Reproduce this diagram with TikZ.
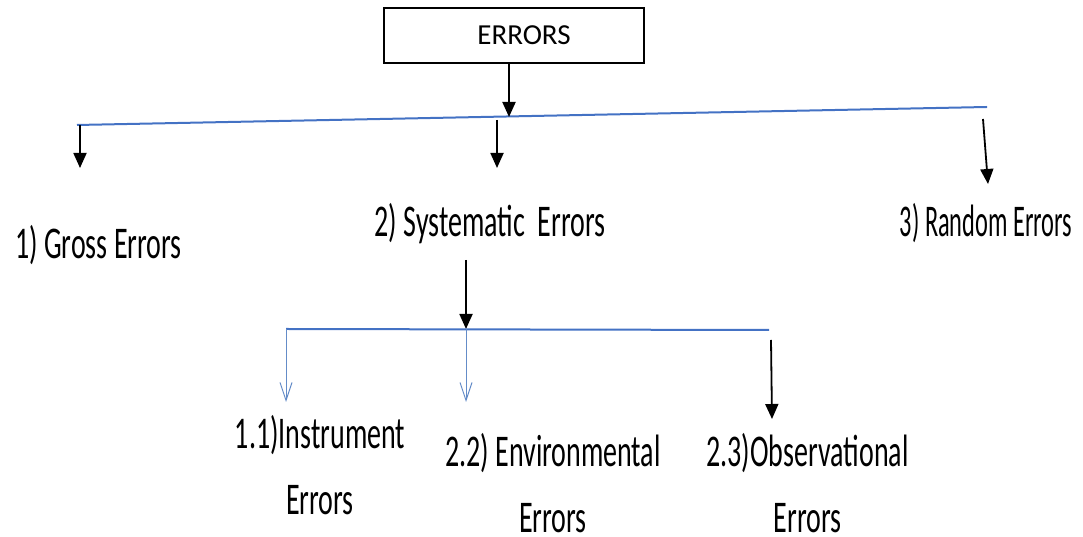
\documentclass[tikz,border=0pt]{standalone}
\usepackage{fontspec}
\setmainfont{Carlito}
\usetikzlibrary{arrows.meta}
\definecolor{lineblue}{RGB}{68,114,196}
\definecolor{thinblue}{RGB}{100,140,200}
\newcommand{\biglabel}[2][1]{\scalebox{#1}[1.62]{\fontsize{28}{41}\selectfont\vbox{\halign{\hfil##\hfil\cr #2\cr}}}}
\tikzset{
  blk/.style={draw=black, line width=1.8pt, -{Triangle[length=15pt,width=13pt]}},
  bluebar/.style={draw=lineblue, line width=2pt},
  bluearr/.style={draw=thinblue, line width=1pt, -{Straight Barb[length=18pt,width=12pt,line width=1pt]}},
  lbl/.style={inner sep=0pt, anchor=center},
  topbox/.style={draw=black, line width=1.5pt, minimum width=260pt, minimum height=55pt, inner sep=0pt, font=\fontsize{29}{34}\selectfont}
}
\begin{document}
\begin{tikzpicture}[x=1pt,y=1pt]
\useasboundingbox (0,0) rectangle (1083,537);
% top box
\node[topbox] (errors) at (514,501.5) {\hspace*{20pt}ERRORS};
% main horizontal line
\coordinate (barL) at (77,412);
\coordinate (barR) at (987,430);
\draw[bluebar] (barL) -- (barR);
\coordinate (barMid) at (509,420);
\draw[blk, line width=2pt] (errors.south -| barMid) -- (barMid);
% branch arrows
\coordinate (gA) at (80,412);
\coordinate (gB) at (80,369);
\coordinate (sA) at (497,417);
\coordinate (sB) at (497,369);
\coordinate (rA) at (983,418);
\coordinate (rB) at (988,353);
\draw[blk] (gA) -- (gB);
\draw[blk] (sA) -- (sB);
\draw[blk] (rA) -- (rB);
% labels level 1
\node[lbl] (gross) at (98.5,292) {\biglabel{1) Gross Errors}};
\node[lbl] (sys) at (490,313) {\biglabel{2) Systematic\ \ Errors}};
\node[lbl] (rand) at (986,314) {\biglabel[0.87]{3) Random Errors}};
% systematic sub-branch
\coordinate (sysStart) at (466,277);
\coordinate (subMid) at (466,208);
\draw[blk] (sysStart) -- (subMid);
\coordinate (subL) at (286,208);
\coordinate (subR) at (769,207);
\draw[bluebar] (subL) -- (subR);
\coordinate (iB) at (286,135);
\coordinate (eB) at (466,135);
\draw[bluearr] (subL) -- (iB);
\draw[bluearr] (subMid) -- (eB);
\coordinate (oA) at (771,197);
\coordinate (oB) at (772,118);
\draw[blk] (oA) -- (oB);
% labels level 2
\node[lbl, anchor=south] (instr) at (320,22) {\biglabel{1.1)Instrument\cr Errors}};
\node[lbl, anchor=south] (env) at (553,4) {\biglabel{2.2) Environmental\cr Errors}};
\node[lbl, anchor=south] (obs) at (807.5,4) {\biglabel{2.3)Observational\cr Errors}};
\end{tikzpicture}
\end{document}
